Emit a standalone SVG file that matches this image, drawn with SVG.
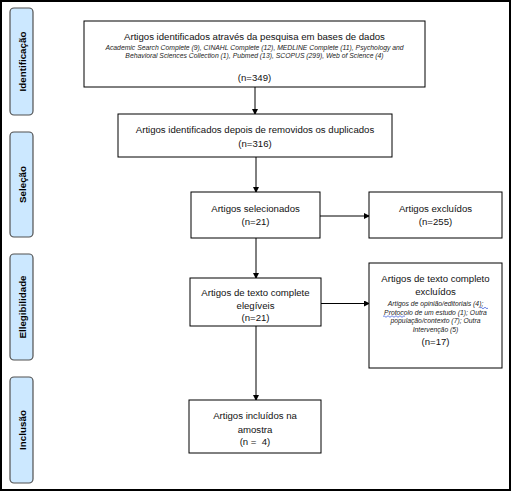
<svg xmlns="http://www.w3.org/2000/svg" width="512" height="492" viewBox="0 0 512 492">
<defs>
<marker id="ah" markerWidth="6" markerHeight="6" refX="5" refY="3" orient="auto" markerUnits="userSpaceOnUse">
<path d="M0,0 L6,3 L0,6 Z" fill="#000"/>
</marker>
<style>
.box{fill:#fff;stroke:#000;stroke-width:1}
.phase{fill:#cce8ff;stroke:#505050;stroke-width:1.2}
.t{font-family:"Liberation Sans",Arial,sans-serif;font-size:9.6px;fill:#111;text-anchor:middle}
.s{font-family:"Liberation Sans",Arial,sans-serif;font-size:6.8px;font-style:italic;fill:#222;text-anchor:middle}
.p{font-family:"Liberation Sans",Arial,sans-serif;font-size:9.8px;font-weight:bold;fill:#000;text-anchor:middle}
.c{stroke:#000;stroke-width:1;fill:none;marker-end:url(#ah)}
</style>
</defs>
<rect x="0" y="0" width="512" height="492" fill="#fff"/>
<rect x="1" y="1" width="509" height="489" fill="none" stroke="#000" stroke-width="2"/>
<g id="phase-identificacao"><rect class="phase" x="10" y="8" width="23" height="107" rx="4"/><text class="p" transform="translate(25.5,61.5) rotate(-90)">Identificação</text></g>
<g id="phase-selecao"><rect class="phase" x="10" y="132" width="23" height="105" rx="4"/><text class="p" transform="translate(25.5,184.5) rotate(-90)">Seleção</text></g>
<g id="phase-elegibilidade"><rect class="phase" x="10" y="254" width="23" height="106" rx="4"/><text class="p" transform="translate(25.5,307) rotate(-90)">Ellegibilidade</text></g>
<g id="phase-inclusao"><rect class="phase" x="10" y="377" width="23" height="106" rx="4"/><text class="p" transform="translate(25.5,430) rotate(-90)">Inclusão</text></g>
<g id="connectors">
<line class="c" x1="255" y1="87" x2="255" y2="114"/>
<line class="c" x1="256" y1="157" x2="256" y2="192"/>
<line class="c" x1="320" y1="216" x2="369" y2="216"/>
<line class="c" x1="256" y1="238" x2="256" y2="278"/>
<line class="c" x1="320" y1="303.5" x2="369" y2="303.5"/>
<line class="c" x1="256" y1="326" x2="256" y2="400"/>
</g>
<g id="n-identificados"><rect class="box" x="84" y="21" width="341" height="66"/>
<text class="t" x="254.5" y="40">Artigos identificados através da pesquisa em bases de dados</text>
<text class="s" x="254.5" y="49.5">Academic Search Complete (9), CINAHL Complete (12), MEDLINE Complete (11), Psychology and</text>
<text class="s" x="254.5" y="57.5">Behavioral Sciences Collection (1), Pubmed (13), SCOPUS (299), Web of Science (4)</text>
<text class="t" x="254.5" y="81">(n=349)</text></g>
<g id="n-duplicados"><rect class="box" x="118" y="114" width="274" height="43"/>
<text class="t" x="255" y="133">Artigos identificados depois de removidos os duplicados</text>
<text class="t" x="255" y="147">(n=316)</text></g>
<g id="n-selecionados"><rect class="box" x="191" y="192" width="129" height="46"/>
<text class="t" x="255.5" y="212">Artigos selecionados</text>
<text class="t" x="255.5" y="225">(n=21)</text></g>
<g id="n-excluidos"><rect class="box" x="369" y="192" width="133" height="46"/>
<text class="t" x="435.5" y="212">Artigos excluídos</text>
<text class="t" x="435.5" y="225">(n=255)</text></g>
<g id="n-elegiveis"><rect class="box" x="190" y="278" width="131" height="48"/>
<text class="t" x="255.5" y="296">Artigos de texto complete</text>
<text class="t" x="255.5" y="308.5">elegíveis</text>
<text class="t" x="255.5" y="321">(n=21)</text></g>
<g id="n-texto-excluidos"><rect class="box" x="369" y="263" width="133" height="105"/>
<text class="t" x="435.5" y="282">Artigos de texto completo</text>
<text class="t" x="435.5" y="295">excluídos</text>
<text class="s" x="435.5" y="306">Artigos de opinião/editoriais (4);</text>
<text class="s" x="435.5" y="314.5">Protocolo de um estudo (1); Outra</text>
<text class="s" x="435.5" y="323">população/contexto (7); Outra</text>
<text class="s" x="435.5" y="332">Intervenção (5)</text>
<path d="M480,308 q1,-1.5 2,0 t2,0 t2,0 t2,0 M383,316.5 q1,-1.5 2,0 t2,0 t2,0 t2,0 t2,0 t2,0 t2,0 t2,0 t2,0 t2,0 t2,0" fill="none" stroke="#2b4fd8" stroke-width="0.7"/>
<text class="t" x="435.5" y="345">(n=17)</text></g>
<g id="n-incluidos"><rect class="box" x="189" y="400" width="132" height="53"/>
<text class="t" x="255" y="419">Artigos incluídos na</text>
<text class="t" x="255" y="432.5">amostra</text>
<text class="t" x="255" y="445" xml:space="preserve">(n =  4)</text></g>
</svg>
